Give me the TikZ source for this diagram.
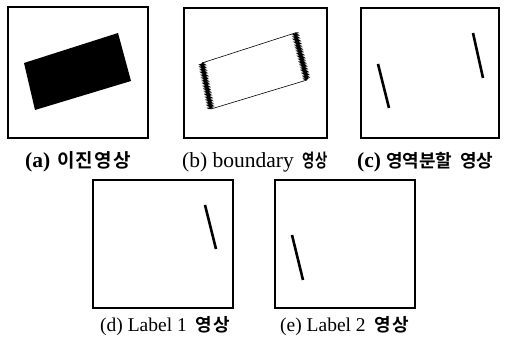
\documentclass[tikz,border=0pt]{standalone}
\usepackage{fontspec}
\setmainfont{Liberation Serif}
\newfontfamily\kr{Noto Sans CJK KR}[BoldFont={* Bold}]
\newfontfamily\krn{Noto Sans CJK KR}[BoldFont={* Bold},FakeStretch=0.72]
\usetikzlibrary{decorations.pathmorphing}
\newcommand{\ko}[2][17.5]{{\kr\bfseries\fontsize{#1}{19}\selectfont #2}}
\newcommand{\kon}[1]{{\krn\bfseries\fontsize{18.5}{19}\selectfont #1}}
\newcommand{\hg}{\hspace{1.2pt}}
\begin{document}
\begin{tikzpicture}[x=1pt,y=-1pt,
  panel/.style={draw,line width=1.4pt},
  seg/.style={line width=2.6pt},
  hatch/.style={line width=1.2pt,decorate,decoration={zigzag,amplitude=1.6pt,segment length=1.6pt}},
  captxt/.style={font=\fontsize{21.5}{23}\selectfont,inner sep=0pt,anchor=base west},
  captxtb/.style={font=\fontsize{19.5}{21}\selectfont,inner sep=0pt,anchor=base west}]
\useasboundingbox[fill=white] (0,0) rectangle (507,339);
% (a)
\draw[panel] (8,7) rectangle (148,138);
\fill (24,63) -- (118,33) -- (131,81) -- (35,110) -- cycle;
\node[captxt] (la) at (25,168) {\bfseries(a)\hspace{7pt}\ko[19]{이\hg 진\hg 영\hg 상}};
% (b)
\draw[panel] (184,8) rectangle (327,138);
\draw[line width=0.6pt] (202,63) -- (295,33) (307,80) -- (211,109);
\draw[hatch] (202,63) -- (211,109);
\draw[hatch] (295,33) -- (307,80);
\node[captxt] (lb) at (182,168) {(b) boundary\hspace{9pt}\kon{영상}};
% (c)
\draw[panel] (361,8) rectangle (499,138);
\draw[seg] (378,64) -- (389,108);
\draw[seg] (473,33) -- (483,78);
\node[captxt] (lc) at (357,168) {\bfseries(c)\hspace{5pt}\ko[18]{영역분할\hspace{8pt}영상}};
% (d)
\draw[panel] (93,180) rectangle (233,308);
\draw[seg] (205,205) -- (216,249);
\node[captxtb] (ld) at (100,332) {(d) Label 1\hspace{9pt}\ko[18]{영\hg 상}};
% (e)
\draw[panel] (275,180) rectangle (415,308);
\draw[seg] (292,235) -- (303,280);
\node[captxtb] (le) at (280,332) {(e) Label 2\hspace{9pt}\ko[18]{영\hg 상}};
\end{tikzpicture}
\end{document}
